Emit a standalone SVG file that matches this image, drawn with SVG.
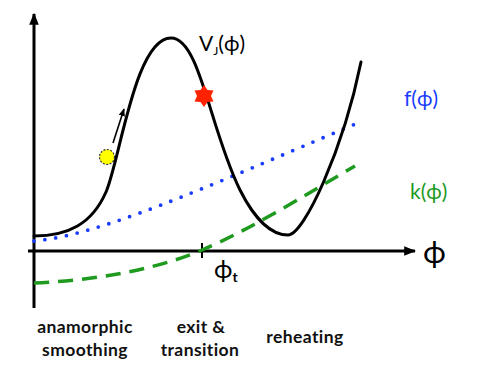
<svg xmlns="http://www.w3.org/2000/svg" width="477" height="373" viewBox="0 0 477 373">
<style>
.ax{stroke:#000;stroke-width:3;fill:none}
.v{stroke:#000;stroke-width:3;fill:none;stroke-linecap:round}
.f{stroke:#1a3cff;stroke-width:3.8;fill:none;stroke-dasharray:0 11;stroke-linecap:round}
.k{stroke:#1e9a1e;stroke-width:3.5;fill:none;stroke-dasharray:15 9}
.t{font-family:Lato,"Open Sans","Liberation Sans",sans-serif}
.lb{font-family:Lato,"Open Sans","Liberation Sans",sans-serif;font-weight:bold;font-size:17.5px;letter-spacing:0.4px;text-anchor:middle;fill:#111}
</style>
<defs>
<marker id="ah" viewBox="0 0 10 10" refX="9" refY="5" markerWidth="4" markerHeight="4" orient="auto" markerUnits="strokeWidth"><path d="M0,1 L10,5 L0,9 Z" fill="#000"/></marker>
<marker id="ah2" viewBox="0 0 10 10" refX="9" refY="5" markerWidth="5" markerHeight="5" orient="auto" markerUnits="strokeWidth"><path d="M0,1 L10,5 L0,9 Z" fill="#000"/></marker>
</defs>
<g id="connectors">
<line id="y-axis" class="ax" x1="34" y1="308" x2="34" y2="14" marker-end="url(#ah)"/>
<line id="x-axis" class="ax" x1="28" y1="251" x2="415" y2="251" marker-end="url(#ah)"/>
<line id="tick" x1="202" y1="243" x2="202" y2="258" stroke="#000" stroke-width="2"/>
<path id="f-curve" class="f" d="M34,241 C100,235 200,190 360,122"/>
<path id="k-curve" class="k" d="M34,283 C110,280 170,264 202,250 C250,230 310,192 355,166"/>
<path id="v-curve" class="v" d="M34,236 C68,236 92,224 106,192 C120,160 135,38 171,38 C200,38 210,130 240,190 C255,220 272,235 288,235 C304,235 343,150 361,62"/>
<line id="motion-arrow" x1="113" y1="143" x2="124" y2="109" stroke="#000" stroke-width="1.6" marker-end="url(#ah2)"/>
</g>
<g id="ball"><circle cx="107" cy="157" r="7.5" fill="#ffff00" stroke="#333" stroke-width="1.2" stroke-dasharray="2 1.5"/></g>
<g id="star"><polygon fill="#ff2200" points="204,85 207.5,90 213.5,90.5 211,96 213.5,101.5 207.5,102 204,107 200.5,102 194.5,101.5 197,96 194.5,90.5 200.5,90"/></g>
<g id="label-V"><text class="t" x="199" y="51" font-size="21" fill="#000">V<tspan font-size="12" dy="4">J</tspan><tspan dy="-4">(ϕ)</tspan></text></g>
<g id="label-f"><text class="t" x="404" y="106" font-size="21" fill="#1a3cff">f(ϕ)</text></g>
<g id="label-k"><text class="t" x="410" y="199" font-size="21" fill="#1e9a1e">k(ϕ)</text></g>
<g id="label-phi"><text class="t" x="423" y="263" font-size="31" fill="#000">ϕ</text></g>
<g id="label-phit"><text class="t" x="214" y="278" font-size="25" fill="#000">ϕ<tspan font-size="14" font-weight="bold" dy="4">t</tspan></text></g>
<g id="label-anamorphic"><text class="lb" x="85" y="333">anamorphic</text><text class="lb" x="85" y="356">smoothing</text></g>
<g id="label-exit"><text class="lb" x="201" y="333">exit &amp;</text><text class="lb" x="200" y="356">transition</text></g>
<g id="label-reheating"><text class="lb" x="305" y="343">reheating</text></g>
</svg>
